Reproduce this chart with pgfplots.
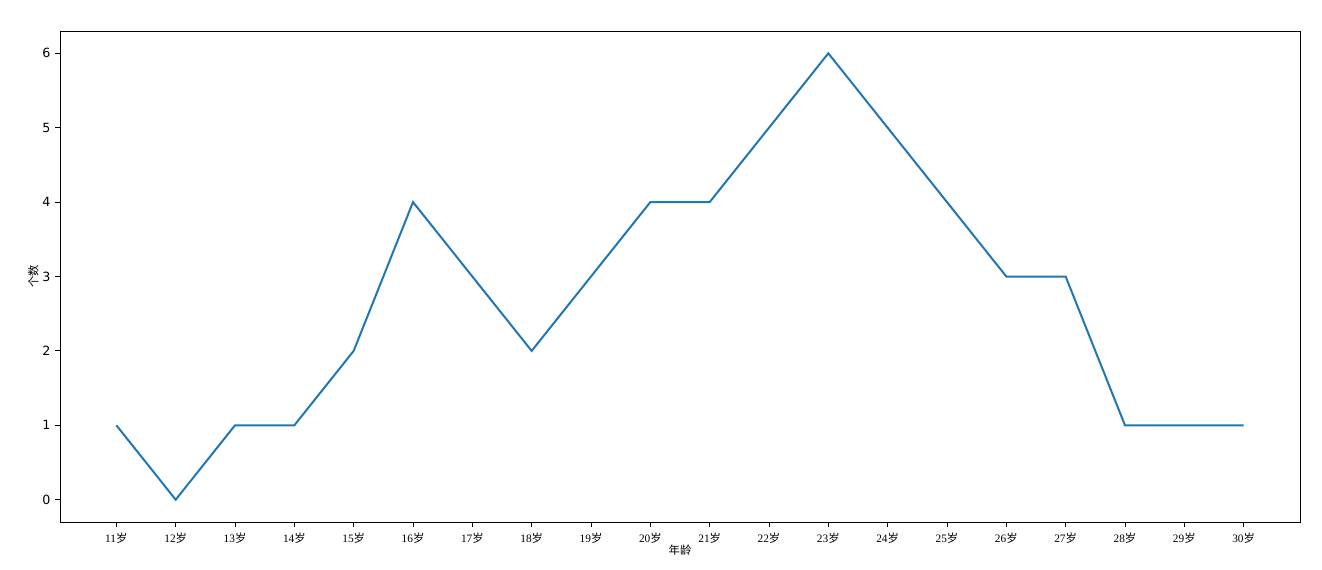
\documentclass[border=0pt]{standalone}
\usepackage{fontspec}
\setmainfont{Liberation Serif}
\newfontfamily\cjk{Noto Sans CJK SC}
\newfontfamily\dejavu{DejaVu Sans}
\usepackage{pgfplots}
\pgfplotsset{compat=1.18}
\definecolor{lineblue}{HTML}{1F77B4}

\begin{document}
\begin{tikzpicture}
  \begin{axis}[
    at={(0,0)}, anchor=south west,
    scale only axis,
    width=930pt, height=368.25pt,
    xmin=10.05, xmax=30.95,
    ymin=-0.3, ymax=6.3,
    xtick={11,...,30},
    ytick={0,...,6},
    tick align=outside,
    major tick length=3.6pt,
    tick style={black, line width=0.6pt},
    axis line style={black, line width=0.6pt},
    xtick pos=bottom, ytick pos=left,
    /pgf/number format/assume math mode=true,
    xticklabel={\fontsize{8.5pt}{10pt}\selectfont\pgfmathprintnumber{\tick}{\cjk 岁}},
    yticklabel style={font=\dejavu\fontsize{9.5pt}{11pt}\selectfont},
    xticklabel style={yshift=-1pt},
    xlabel={\cjk\fontsize{8.5pt}{10pt}\selectfont 年龄},
    ylabel={\cjk\fontsize{8.5pt}{10pt}\selectfont 个数},
    xlabel style={yshift=6pt},
    ylabel style={yshift=-4pt},
    clip=false,
  ]
    \addplot[lineblue, line width=1.5pt, mark=none] coordinates {
      (11,1) (12,0) (13,1) (14,1) (15,2) (16,4) (17,3) (18,2) (19,3) (20,4)
      (21,4) (22,5) (23,6) (24,5) (25,4) (26,3) (27,3) (28,1) (29,1) (30,1)
    };
  \end{axis}
  \useasboundingbox (-45pt,-35.25pt) rectangle (946.5pt,391.5pt);
\end{tikzpicture}
\end{document}
